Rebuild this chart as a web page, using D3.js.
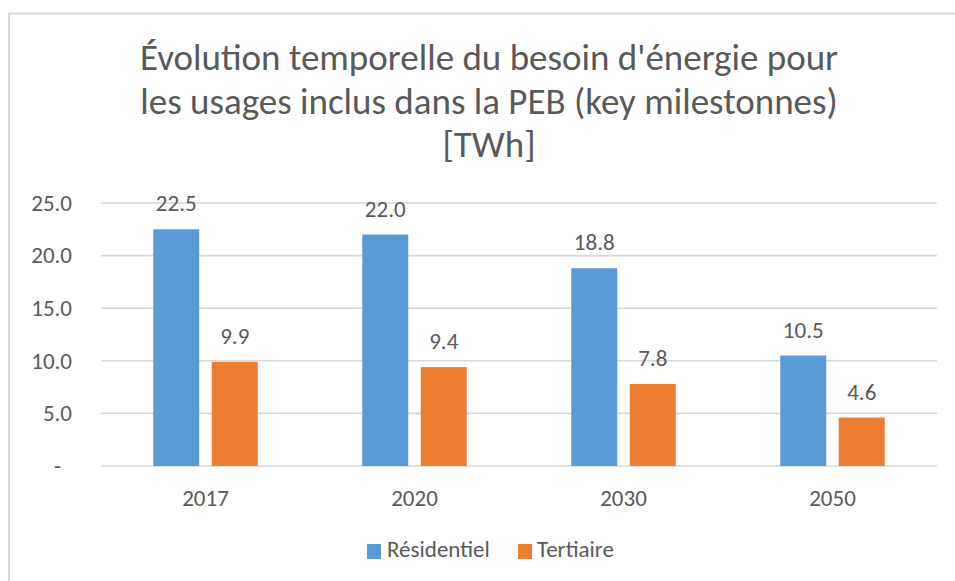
<!DOCTYPE html>
<html>
<head>
<meta charset="utf-8">
<script src="https://cdn.jsdelivr.net/npm/d3@7"></script>
<style>
  html, body { margin: 0; padding: 0; background: #fff; }
  svg { display: block; }
  text { font-family: Carlito, Lato, sans-serif; fill: #595959; }
</style>
</head>
<body>
<svg id="chart" width="955" height="581"></svg>
<script>
const titleLines = ["Évolution temporelle du besoin d'énergie pour", "les usages inclus dans la PEB (key milestonnes)", "[TWh]"];
const categories = ["2017", "2020", "2030", "2050"];
const seriesNames = ["Résidentiel", "Tertiaire"];
const residentiel = [22.5, 22.0, 18.8, 10.5];
const tertiaire = [9.9, 9.4, 7.8, 4.6];
const yTicks = [0, 5, 10, 15, 20, 25];
const colors = ["#5B9BD5", "#ED7D31"];

const FONT = 'Carlito, Lato, sans-serif';
const LBL = 23;
const svg = d3.select("#chart");
const W = 955, H = 581;

// chart border
svg.append("rect").attr("x", 9).attr("y", 13.5).attr("width", W + 20).attr("height", H + 20)
  .attr("fill", "#fff").attr("stroke", "#d9d9d9").attr("stroke-width", 2);

// title
const title = svg.append("text").attr("text-anchor", "middle").attr("font-size", 37);
const titleY = [70, 113.5, 157];
titleLines.forEach((t, i) => {
  title.append("tspan").attr("x", 489).attr("y", titleY[i]).text(t);
});

const x0 = d3.scaleBand().domain(categories).range([101, 937]).paddingInner(0.5).paddingOuter(0.25);
const x1 = d3.scaleBand().domain(seriesNames).range([0, x0.bandwidth()]).paddingInner(0.214);
const y = d3.scaleLinear().domain([0, 25]).range([466, 203]);

// gridlines
svg.append("g").selectAll("line").data(yTicks).join("line")
  .attr("x1", 101).attr("x2", 937)
  .attr("y1", d => y(d)).attr("y2", d => y(d))
  .attr("stroke", "#d9d9d9").attr("stroke-width", 1.6);

// y axis labels
const yAxis = d3.axisLeft(y).tickValues(yTicks)
  .tickFormat(d => d === 0 ? "-" : d3.format(".1f")(d)).tickSize(0).tickPadding(0);
const yg = svg.append("g").attr("transform", "translate(72,0)").call(yAxis);
yg.select(".domain").remove();
yg.selectAll("text").attr("font-size", LBL).attr("fill", "#595959")
  .attr("font-family", FONT)
  .attr("dy", "0.32em")
  .attr("dx", d => d === 0 ? -11 : 0);

// x axis labels
const xAxis = d3.axisBottom(x0).tickSize(0).tickPadding(0);
const xg = svg.append("g").attr("transform", "translate(0,466)").call(xAxis);
xg.select(".domain").remove();
xg.selectAll("text").attr("font-size", LBL).attr("fill", "#595959")
  .attr("font-family", FONT)
  .attr("y", 40).attr("dy", 0);

// bars
const data = categories.map((c, i) => ({ cat: c, vals: [residentiel[i], tertiaire[i]] }));
const groups = svg.append("g").selectAll("g").data(data).join("g")
  .attr("transform", d => `translate(${x0(d.cat)},0)`);
groups.selectAll("rect").data(d => d.vals.map((v, j) => ({ v, s: seriesNames[j], j })))
  .join("rect")
  .attr("x", d => x1(d.s)).attr("width", x1.bandwidth())
  .attr("y", d => y(d.v)).attr("height", d => y(0) - y(d.v))
  .attr("fill", d => colors[d.j]);
groups.selectAll("text.lbl").data(d => d.vals.map((v, j) => ({ v, s: seriesNames[j], j })))
  .join("text").attr("class", "lbl")
  .attr("x", d => x1(d.s) + x1.bandwidth() / 2)
  .attr("y", d => y(d.v) - 18)
  .attr("text-anchor", "middle").attr("font-size", LBL)
  .text(d => d3.format(".1f")(d.v));

// legend
const legendItems = [
  { name: seriesNames[0], color: colors[0], sx: 367, tx: 387 },
  { name: seriesNames[1], color: colors[1], sx: 518, tx: 537 }
];
const lg = svg.append("g");
lg.selectAll("rect").data(legendItems).join("rect")
  .attr("x", d => d.sx).attr("y", 544).attr("width", 14).attr("height", 15)
  .attr("fill", d => d.color);
lg.selectAll("text").data(legendItems).join("text")
  .attr("x", d => d.tx).attr("y", 557).attr("font-size", LBL)
  .text(d => d.name);
</script>
</body>
</html>
